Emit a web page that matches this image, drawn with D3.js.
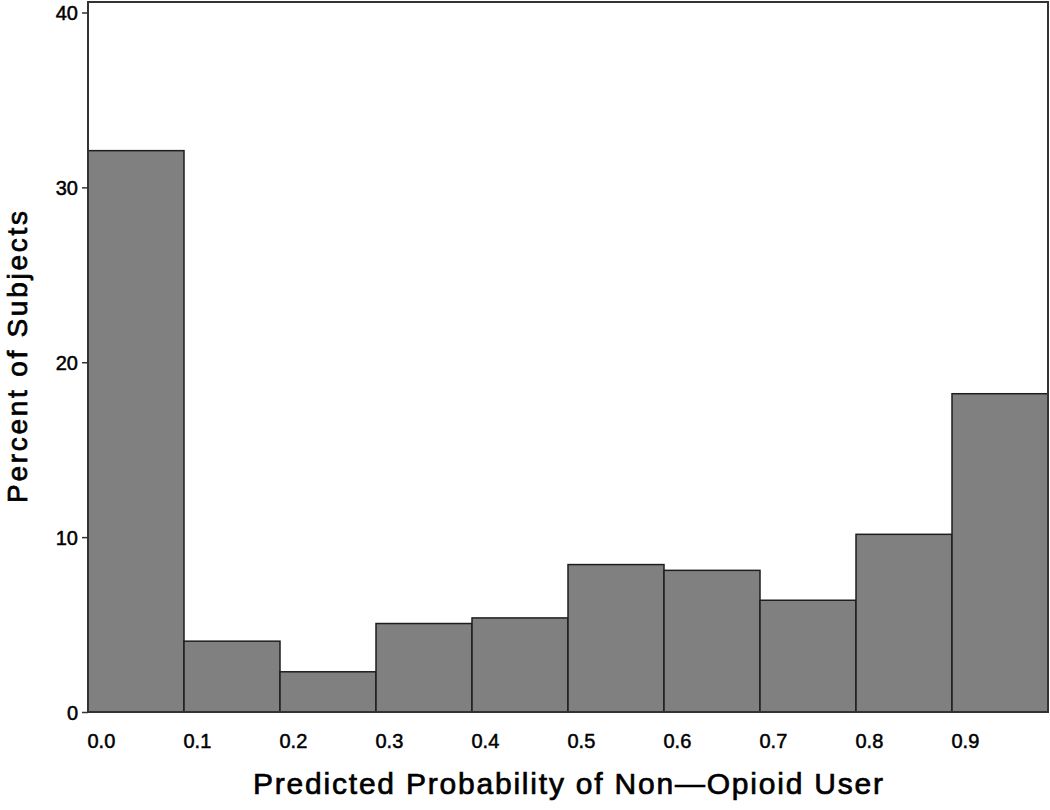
<!DOCTYPE html>
<html>
<head>
<meta charset="utf-8">
<script src="https://cdn.jsdelivr.net/npm/d3@7"></script>
<style>
  body { margin: 0; background: #fff; }
  svg { display: block; }
</style>
</head>
<body>
<div id="chart"></div>
<script>
/////////////////////////////////////////
/////////////// DATA ////////////////////
/////////////////////////////////////////

// histogram bins of predicted probability (left edges), width 0.1
const binStarts = [0.0, 0.1, 0.2, 0.3, 0.4, 0.5, 0.6, 0.7, 0.8, 0.9];
const binWidth = 0.1;
// percent of subjects in each bin
const percents = [32.1, 4.05, 2.3, 5.06, 5.38, 8.43, 8.1, 6.39, 10.16, 18.2];
const yTicks = [0, 10, 20, 30, 40];
const xTickLabels = ["0.0", "0.1", "0.2", "0.3", "0.4", "0.5", "0.6", "0.7", "0.8", "0.9"];

/////////////////////////////////////////
/////////////// SETUP ///////////////////
/////////////////////////////////////////

const WIDTH = 1050, HEIGHT = 810;
const margin = {top: 2, right: 2, bottom: 98, left: 88};
const FONT = "'Liberation Sans', Arial, sans-serif";

const svg = d3.select("#chart").append("svg")
    .attr("width", WIDTH)
    .attr("height", HEIGHT);

const x = d3.scaleLinear()
    .domain([0, 1])
    .range([margin.left, WIDTH - margin.right]);

const y = d3.scaleLinear()
    .domain([0, 40.6])
    .range([HEIGHT - margin.bottom, margin.top]);

const data = binStarts.map((b, i) => ({x0: b, x1: b + binWidth, v: percents[i]}));

//bars
svg.append("g")
    .selectAll("rect")
    .data(data)
    .join("rect")
        .attr("x", d => x(d.x0))
        .attr("y", d => y(d.v))
        .attr("width", d => x(d.x1) - x(d.x0))
        .attr("height", d => y(0) - y(d.v))
        .attr("fill", "#808080")
        .attr("stroke", "#1e1e1e")
        .attr("stroke-width", 1.5);

//frame
svg.append("rect")
    .attr("x", x(0))
    .attr("y", y(40.6))
    .attr("width", x(1) - x(0))
    .attr("height", y(0) - y(40.6))
    .attr("fill", "none")
    .attr("stroke", "#333")
    .attr("stroke-width", 2);

//y axis
const yAxis = svg.append("g")
    .attr("transform", `translate(${x(0)},0)`)
    .call(d3.axisLeft(y).tickValues(yTicks).tickSize(6).tickPadding(4).tickFormat(d3.format("d")));
yAxis.select(".domain").remove();
yAxis.selectAll("line").attr("stroke", "#333").attr("stroke-width", 1.5);
yAxis.selectAll("text")
    .attr("font-family", FONT)
    .attr("font-size", "20px")
    .attr("fill", "#000")
    .attr("stroke", "#000")
    .attr("stroke-width", 0.5)
    .attr("dy", "0.36em");

//x axis -- labels sit at left edge of each bin
const xAxis = svg.append("g")
    .attr("transform", `translate(0,${y(0)})`)
    .call(d3.axisBottom(x).tickValues(binStarts).tickSize(0).tickPadding(22)
        .tickFormat((d, i) => xTickLabels[i]));
xAxis.select(".domain").remove();
xAxis.selectAll("text")
    .attr("font-family", FONT)
    .attr("font-size", "20px")
    .attr("fill", "#000")
    .attr("stroke", "#000")
    .attr("stroke-width", 0.5)
    .attr("text-anchor", "start")
    .attr("x", -1);

//titles
svg.append("text")
    .attr("x", (x(0) + x(1)) / 2 - 0)
    .attr("y", 794)
    .attr("text-anchor", "middle")
    .attr("font-family", FONT)
    .attr("font-size", "30px")
    .attr("fill", "#000")
    .attr("stroke", "#000")
    .attr("stroke-width", 0.7)
    .attr("textLength", 630)
    .attr("lengthAdjust", "spacing")
    .text("Predicted Probability of Non\u2014Opioid User");

svg.append("text")
    .attr("transform", `translate(27,357) rotate(-90)`)
    .attr("text-anchor", "middle")
    .attr("font-family", FONT)
    .attr("font-size", "28px")
    .attr("fill", "#000")
    .attr("stroke", "#000")
    .attr("stroke-width", 0.7)
    .attr("textLength", 292)
    .attr("lengthAdjust", "spacing")
    .text("Percent of Subjects");
</script>
</body>
</html>
